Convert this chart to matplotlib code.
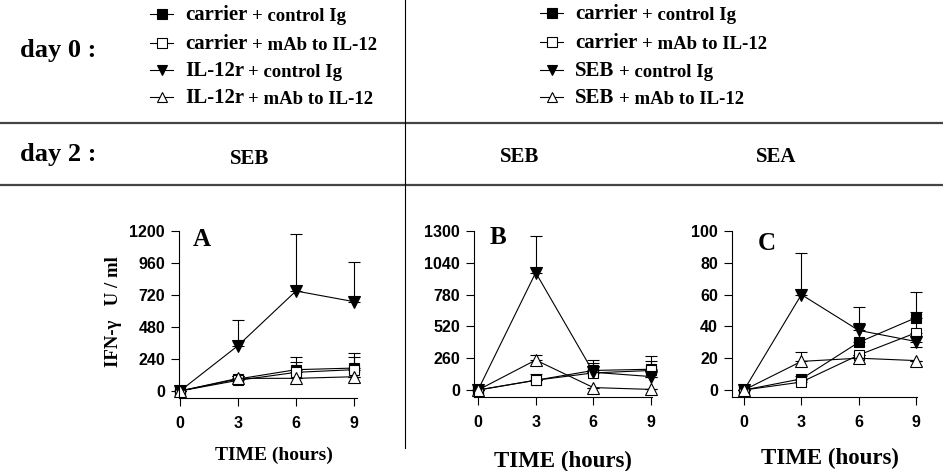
import matplotlib
matplotlib.use("Agg")
import matplotlib.pyplot as plt
import numpy as np

W, H = 943, 471

# ---------------- data ----------------
hours = [0, 3, 6, 9]
xticks = [0, 3, 6, 9]

series_A_labels = [("carrier", "+ control Ig"), ("carrier", "+ mAb to IL-12"),
                   ("IL-12r", "+ control Ig"), ("IL-12r", "+ mAb to IL-12")]
series_B_labels = [("carrier", "+ control Ig"), ("carrier", "+ mAb to IL-12"),
                   ("SEB", "+ control Ig"), ("SEB", "+ mAb to IL-12")]

# Panel A (day 2: SEB)
A_filled_sq = [0, 90, 160, 172]
A_filled_sq_err = [0, 25, 95, 113]
A_open_sq = [0, 80, 140, 160]
A_open_sq_err = [0, 35, 77, 95]
A_filled_tri = [0, 340, 750, 670]
A_filled_tri_err = [0, 196, 425, 295]
A_open_tri = [0, 95, 95, 107]
A_open_tri_err = [0, 20, 0, 0]
A_yticks = [0, 240, 480, 720, 960, 1200]

# Panel B (day 2: SEB)
B_filled_sq = [0, 80, 160, 170]
B_filled_sq_err = [0, 0, 85, 110]
B_open_sq = [0, 80, 140, 160]
B_open_sq_err = [0, 55, 80, 80]
B_filled_tri = [0, 960, 145, 110]
B_filled_tri_err = [0, 300, 0, 0]
B_open_tri = [0, 245, 20, 5]
B_open_tri_err = [0, 45, 0, 0]
B_yticks = [0, 260, 520, 780, 1040, 1300]

# Panel C (day 2: SEA)
C_filled_sq = [0, 7, 30, 45.5]
C_filled_sq_err = [0, 1.5, 12, 16]
C_open_sq = [0, 5, 22, 36]
C_open_sq_err = [0, 1, 0, 13]
C_filled_tri = [0, 60, 37.5, 30.5]
C_filled_tri_err_up = [0, 26, 15, 0]
C_filled_tri_err_dn = [0, 0, 0, 3.5]
C_open_tri = [0, 18, 20, 18.5]
C_open_tri_err = [0, 6, 0, 0]
C_yticks = [0, 20, 40, 60, 80, 100]

SERIF = "Liberation Serif"
SANS = "Liberation Sans"

fig = plt.figure(figsize=(W / 100, H / 100), dpi=100)
fig.patch.set_facecolor("white")

# overlay axes in pixel-like coords for decorations
ov = fig.add_axes([0, 0, 1, 1], zorder=-1)
ov.set_xlim(0, W)
ov.set_ylim(H, 0)
ov.axis("off")


def rect(l, r, t, b):
    return [l / W, 1 - b / H, (r - l) / W, (b - t) / H]


# ---- separator lines ----
ov.plot([0, W], [123, 123], color="#444444", lw=1.6)
ov.plot([0, W], [185, 185], color="#444444", lw=1.6)
ov.plot([405, 405], [0, 448], color="black", lw=0.8)

# ---- header text ----
ov.text(20, 50, "day 0 :", fontfamily=SERIF, fontweight="bold", fontsize=19,
        va="center", ha="left")
ov.text(20, 155, "day 2 :", fontfamily=SERIF, fontweight="bold", fontsize=19,
        va="center", ha="left")
ov.text(250, 159, "SEB", fontfamily=SERIF, fontweight="bold", fontsize=15,
        va="center", ha="center")
ov.text(520, 157, "SEB", fontfamily=SERIF, fontweight="bold", fontsize=15,
        va="center", ha="center")
ov.text(776, 157, "SEA", fontfamily=SERIF, fontweight="bold", fontsize=15,
        va="center", ha="center")

marker_styles = [
    dict(marker="s", mfc="black", mec="black", ms=7.5),
    dict(marker="s", mfc="white", mec="black", ms=7.5),
    dict(marker="v", mfc="black", mec="black", ms=8.5),
    dict(marker="^", mfc="white", mec="black", ms=8.5),
]
legend_marker_styles = [
    dict(marker="s", mfc="black", mec="black", ms=6.5),
    dict(marker="s", mfc="white", mec="black", ms=6.5),
    dict(marker="v", mfc="black", mec="black", ms=7),
    dict(marker="^", mfc="white", mec="black", ms=7),
]


def legend_block(x0, ys, labels):
    for y, (main, rest), st in zip(ys, labels, legend_marker_styles):
        ov.plot([x0, x0 + 23], [y, y], color="black", lw=0.8)
        ov.plot([x0 + 11.5], [y], color="black", mew=0.8, **st)
        t1 = ov.text(x0 + 35, y + 6, main, fontfamily=SERIF, fontweight="bold",
                     fontsize=15, va="baseline", ha="left")
        ov.annotate(rest, xy=(1, 0), xycoords=t1, xytext=(3, 0),
                    textcoords="offset points", fontfamily=SERIF,
                    fontweight="bold", fontsize=13.5, va="bottom", ha="left")


legend_block(150, [14, 43, 70, 97], series_A_labels)
legend_block(540, [13, 42, 70, 97], series_B_labels)


def panel(rect_px, xlim, ylim, yticks, data, letter, letter_xy):
    ax = fig.add_axes(rect(*rect_px))
    for (vals, err_lo, err_up), st in zip(data, marker_styles):
        ax.errorbar(hours, vals, yerr=[err_lo, err_up], color="black", lw=0.8,
                    elinewidth=0.8, capsize=4, capthick=0.8, mew=0.8,
                    clip_on=False, **st)
    ax.set_xlim(*xlim)
    ax.set_ylim(*ylim)
    ax.set_xticks(xticks)
    ax.set_yticks(yticks)
    for s in ("top", "right"):
        ax.spines[s].set_visible(False)
    for s in ("left", "bottom"):
        ax.spines[s].set_linewidth(0.8)
    ax.tick_params(axis="both", direction="out", length=6, width=0.8)
    ax.tick_params(axis="y", pad=4)
    ax.tick_params(axis="x", pad=7)
    for lab in ax.get_xticklabels() + ax.get_yticklabels():
        lab.set_fontfamily(SANS)
        lab.set_fontweight("bold")
        lab.set_fontsize(11.5)
    ax.patch.set_alpha(0)
    ov.text(letter_xy[0], letter_xy[1], letter, fontfamily=SERIF,
            fontweight="bold", fontsize=18, ha="left", va="center")
    return ax


zeros = [0, 0, 0, 0]

panel((179, 357, 231, 398), (-0.05, 9.155), (-52.5, 1200), A_yticks,
      [(A_filled_sq, zeros, A_filled_sq_err),
       (A_open_sq, zeros, A_open_sq_err),
       (A_filled_tri, zeros, A_filled_tri_err),
       (A_open_tri, zeros, A_open_tri_err)],
      "A", (193, 239))

panel((474, 652, 231, 397), (-0.21, 9.05), (-57, 1300), B_yticks,
      [(B_filled_sq, zeros, B_filled_sq_err),
       (B_open_sq, zeros, B_open_sq_err),
       (B_filled_tri, zeros, B_filled_tri_err),
       (B_open_tri, zeros, B_open_tri_err)],
      "B", (490, 238))

panel((732, 917, 231, 397), (-0.63, 9.05), (-4.4, 100), C_yticks,
      [(C_filled_sq, zeros, C_filled_sq_err),
       (C_open_sq, zeros, C_open_sq_err),
       (C_filled_tri, C_filled_tri_err_dn, C_filled_tri_err_up),
       (C_open_tri, zeros, C_open_tri_err)],
      "C", (758, 243))

# axis labels
ov.text(113, 312, "IFN-γ   U / ml", fontfamily=SERIF, fontweight="bold",
        fontsize=13.5, rotation=90, ha="center", va="center")
for x, y, fs in [(274, 455, 14), (563, 461, 16.5), (830, 458, 16.5)]:
    ov.text(x, y, "TIME (hours)", fontfamily=SERIF, fontweight="bold",
            fontsize=fs, ha="center", va="center")

fig.savefig("out.png", dpi=100, facecolor="white")
